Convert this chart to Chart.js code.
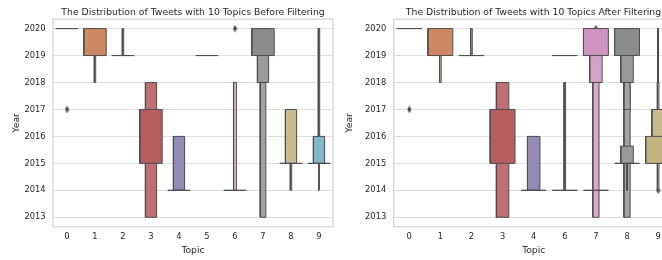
<!DOCTYPE html>
<html>
<head>
<meta charset="utf-8">
<script src="https://cdn.jsdelivr.net/npm/chart.js@4"></script>
<style>
  html, body { margin: 0; padding: 0; background: #fff; overflow: hidden; width: 662px; height: 260px; }
  canvas { position: absolute; top: 0; }
  #before { left: 0; }
  #after { left: 330px; }
</style>
</head>
<body>
<canvas id="before" width="386" height="260"></canvas>
<canvas id="after" width="407" height="260"></canvas>
<script>
// ------------------------------------------------------------------
// Data (letter-value boxes per topic slot)
// ------------------------------------------------------------------

const yearTicks = [2013, 2014, 2015, 2016, 2017, 2018, 2019, 2020];

const topicsBefore = ['0', '1', '2', '3', '4', '5', '6', '7', '8', '9'];
// [slot, low year, high year, depth]  depth 0 = widest box, each level halves
const boxesBefore = [
  [0, 2020, 2020, 0],
  [1, 2018, 2020, 4], [1, 2019, 2020, 0],
  [2, 2019, 2020, 4], [2, 2019, 2019, 0],
  [3, 2013, 2018, 1], [3, 2015, 2017, 0],
  [4, 2014, 2016, 1], [4, 2014, 2014, 0],
  [5, 2019, 2019, 0],
  [6, 2014, 2018, 3], [6, 2014, 2014, 0],
  [7, 2013, 2020, 2], [7, 2018, 2020, 1], [7, 2019, 2020, 0],
  [8, 2014, 2017, 4], [8, 2015, 2017, 1], [8, 2015, 2015, 0],
  [9, 2014, 2020, 5], [9, 2015, 2020, 4], [9, 2015, 2016, 1], [9, 2015, 2015, 0],
];
const outliersBefore = [[0, 2017], [6, 2020]];

const topicsAfter = ['0', '1', '2', '3', '4', '6', '7', '8', '9'];
const boxesAfter = [
  [0, 2020, 2020, 0],
  [1, 2018, 2020, 4], [1, 2019, 2020, 0],
  [2, 2019, 2020, 4], [2, 2019, 2019, 0],
  [3, 2013, 2018, 1], [3, 2015, 2017, 0],
  [4, 2014, 2016, 1], [4, 2014, 2014, 0],
  [5, 2014, 2018, 4], [5, 2014, 2014, 0], [5, 2019, 2019, 0],
  [6, 2013, 2020, 2], [6, 2018, 2020, 1], [6, 2019, 2020, 0], [6, 2014, 2014, 0],
  [7, 2013, 2020, 2], [7, 2017, 2020, 2], [7, 2015, 2015.64, 1], [7, 2018, 2020, 1],
  [7, 2019, 2020, 0], [7, 2014, 2015, 5], [7, 2015, 2015, 0],
  [8, 2014, 2020, 5], [8, 2014, 2018, 4], [8, 2015, 2017, 1], [8, 2015, 2016, 0],
];
const outliersAfter = [[0, 2017], [6, 2020], [8, 2014]];

// ------------------------------------------------------------------
// Style
// ------------------------------------------------------------------

const FONT    = "'DejaVu Sans', sans-serif";
const TEXT    = '#262626';
const GRID    = '#dedede';
const SPINE   = '#d4d4d4';
const EDGE    = '#4c4c4c';
const BOX_WIDTH = 0.8;
// seaborn "deep" palette, desaturated like boxenplot does
const PALETTE = ['#5875a3', '#cc8963', '#5f9e6e', '#b55d60', '#857aab',
                 '#8d7866', '#d095bf', '#8c8c8c', '#c1b37f', '#71aec0'];
const LIGHTEN = [0, 0.12, 0.2, 0.45, 0.55, 0.65];

function shade(hex, depth) {
  const t = LIGHTEN[Math.min(depth, LIGHTEN.length - 1)];
  const n = parseInt(hex.slice(1), 16);
  const c = [n >> 16, (n >> 8) & 255, n & 255].map(v => Math.round(v + (255 - v) * t));
  return `rgb(${c[0]},${c[1]},${c[2]})`;
}

// thin diamond marker ('d' in matplotlib)
const diamond = document.createElement('canvas');
diamond.width = 5; diamond.height = 8;
(function () {
  const g = diamond.getContext('2d');
  g.fillStyle = EDGE;
  g.beginPath();
  g.moveTo(2.5, 0.3); g.lineTo(4.6, 4); g.lineTo(2.5, 7.7); g.lineTo(0.4, 4);
  g.closePath();
  g.fill();
})();

function buildDatasets(boxes, outliers) {
  const sets = [{
    data: outliers.map(([s, y]) => ({ x: s, y })),
    showLine: false,
    pointStyle: diamond,
    pointRadius: 4,
  }];
  boxes.forEach(([s, lo, hi, depth]) => {
    const half = BOX_WIDTH / Math.pow(2, depth) / 2;
    sets.push({
      data: [
        { x: s - half, y: lo }, { x: s + half, y: lo },
        { x: s + half, y: hi }, { x: s - half, y: hi },
        { x: s - half, y: lo },
      ],
      fill: 'shape',
      backgroundColor: shade(PALETTE[s], depth),
      borderColor: EDGE,
      borderWidth: 1,
      borderJoinStyle: 'miter',
      pointRadius: 0,
      tension: 0,
    });
  });
  // first in list = drawn first (bottom)
  const n = sets.length;
  sets.forEach((ds, i) => { ds.order = n - i; });
  return sets;
}

// axes frame (all four spines)
const frame = {
  id: 'frame',
  beforeDatasetsDraw(chart) {
    const { ctx, chartArea: a } = chart;
    ctx.save();
    ctx.strokeStyle = SPINE;
    ctx.lineWidth = 1.3;
    ctx.strokeRect(a.left, a.top, a.right - a.left, a.bottom - a.top);
    ctx.restore();
  },
};

function makeChart(id, title, topics, boxes, outliers, axisWidth, rightWidth, yTitlePad) {
  const tickFont = { family: FONT, size: 8.3 };
  const labelFont = { family: FONT, size: 9.2 };
  return new Chart(document.getElementById(id), {
    type: 'line',
    data: { datasets: buildDatasets(boxes, outliers) },
    options: {
      responsive: false,
      animation: false,
      events: [],
      layout: { padding: 0 },
      plugins: {
        legend: { display: false },
        tooltip: { enabled: false },
        title: {
          display: true,
          text: title,
          color: TEXT,
          font: { family: FONT, size: 9.3, weight: 'normal' },
          padding: { top: 7, bottom: 1 },
        },
      },
      scales: {
        x: {
          type: 'linear',
          min: -0.5,
          max: topics.length - 0.5,
          afterBuildTicks: s => { s.ticks = topics.map((t, i) => ({ value: i })); },
          afterFit: s => { s.height = 33.3; },
          grid: { display: false, drawTicks: false },
          border: { display: false },
          ticks: { callback: v => topics[v], color: TEXT, font: tickFont, padding: 5.5, autoSkip: false, maxRotation: 0 },
          title: { display: true, text: 'Topic', color: TEXT, font: labelFont, padding: { top: 0, bottom: 3.4 } },
        },
        y: {
          type: 'linear',
          min: 2012.65,
          max: 2020.35,
          afterBuildTicks: s => { s.ticks = yearTicks.map(v => ({ value: v })); },
          afterFit: s => { s.width = axisWidth; },
          grid: { color: GRID, lineWidth: 1, drawTicks: false },
          border: { display: false },
          ticks: { callback: v => String(v), color: TEXT, font: tickFont, padding: 7.5 },
          title: { display: true, text: 'Year', color: TEXT, font: labelFont, padding: { top: yTitlePad, bottom: 0 } },
        },
        // empty right-hand axis so the title centres over the plot area
        yRight: {
          type: 'linear',
          position: 'right',
          afterFit: s => { s.width = rightWidth; },
          grid: { display: false, drawTicks: false },
          border: { display: false },
          ticks: { display: false },
        },
      },
    },
    plugins: [frame],
  });
}

makeChart('before', 'The Distribution of Tweets with 10 Topics Before Filtering',
          topicsBefore, boxesBefore, outliersBefore, 53, 53, 10.6);
makeChart('after', 'The Distribution of Tweets with 10 Topics After Filtering',
          topicsAfter, boxesAfter, outliersAfter, 63.7, 63.3, 14.4);
</script>
</body>
</html>
